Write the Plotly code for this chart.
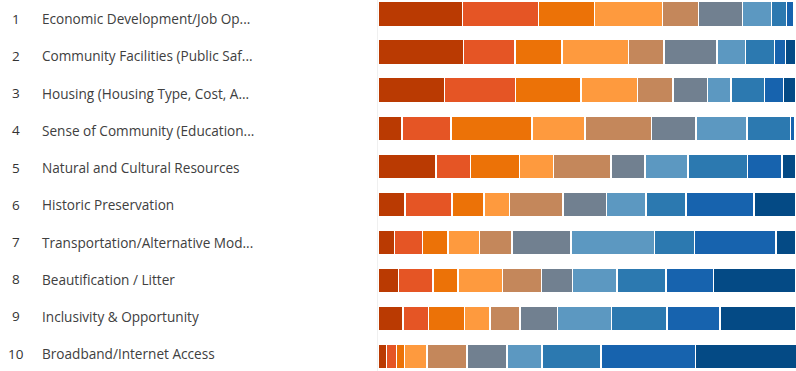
import plotly.graph_objects as go

topics = [
    "Economic Development/Job Op...",
    "Community Facilities (Public Saf...",
    "Housing (Housing Type, Cost, A...",
    "Sense of Community (Education...",
    "Natural and Cultural Resources",
    "Historic Preservation",
    "Transportation/Alternative Mod...",
    "Beautification / Litter",
    "Inclusivity & Opportunity",
    "Broadband/Internet Access",
]
row_numbers = [str(i) for i in range(1, 11)]

# share of responses (%) at each rank, one list per rank, topics in order
rank1 = [20.2, 20.5, 15.9, 5.8, 13.9, 6.4, 4.0, 4.9, 6.0, 2.0]
rank2 = [18.2, 12.3, 17.0, 11.7, 8.2, 11.3, 6.6, 8.2, 6.1, 2.4]
rank3 = [13.4, 11.2, 15.7, 19.3, 11.7, 7.6, 6.1, 6.0, 8.6, 1.9]
rank4 = [16.3, 15.9, 13.5, 12.7, 8.2, 6.2, 7.6, 10.7, 6.1, 5.4]
rank5 = [8.6, 8.5, 8.5, 15.9, 13.7, 12.7, 7.8, 9.3, 7.2, 9.6]
rank6 = [10.5, 12.7, 8.2, 10.7, 8.2, 10.5, 14.1, 7.4, 9.0, 9.6]
rank7 = [6.9, 6.8, 5.7, 12.2, 10.3, 9.4, 19.9, 10.7, 12.9, 8.3]
rank8 = [3.6, 7.0, 8.0, 10.4, 14.2, 9.6, 9.6, 11.7, 13.2, 14.2]
rank9 = [1.8, 2.6, 4.5, 1.0, 8.2, 16.3, 19.5, 11.4, 12.7, 22.5]
rank10 = [0.5, 2.5, 2.9, 0.3, 3.4, 10.0, 4.8, 19.6, 18.2, 24.2]

ranks = [rank1, rank2, rank3, rank4, rank5, rank6, rank7, rank8, rank9, rank10]
colors = ["#BA3A02", "#E55525", "#EC7207", "#FE9A3E", "#C4875B",
          "#718090", "#5C98C1", "#2C79B0", "#1763AE", "#044A85"]

W, H = 796, 371
LEFT = 378

fig = go.Figure()
for k, vals in enumerate(ranks):
    fig.add_trace(go.Bar(
        x=vals, y=topics, orientation="h",
        name="Rank %d" % (k + 1),
        marker=dict(color=colors[k], line=dict(color="white", width=1.5)),
        hoverinfo="x+name",
    ))

# category spacing ~38px; first bar centre ~14px from the top
step = 38.05
top_idx = -14.2 / step
bot_idx = (H - 14.2) / step

annotations = []
for i, (num, name) in enumerate(zip(row_numbers, topics)):
    ypx = 18.8 + 37.2 * i
    yp = 1 - ypx / H
    annotations.append(dict(
        x=(16 - LEFT) / (W - LEFT), y=yp, xref="paper", yref="paper",
        text=num, showarrow=False, xanchor="center", yanchor="middle",
        font=dict(family="Open Sans", size=13.5, color="#333333"),
    ))
    annotations.append(dict(
        x=(40 - LEFT) / (W - LEFT), y=yp, xref="paper", yref="paper",
        text=name, showarrow=False, xanchor="left", yanchor="middle",
        font=dict(family="Open Sans", size=13.6, color="#404040"),
    ))

fig.update_layout(
    width=W, height=H,
    margin=dict(l=LEFT, r=0, t=0, b=0),
    barmode="stack", bargap=0.34,
    showlegend=False,
    plot_bgcolor="white", paper_bgcolor="white",
    xaxis=dict(range=[0, 100], visible=False, fixedrange=True),
    yaxis=dict(
        categoryorder="array", categoryarray=topics,
        range=[bot_idx, top_idx], showticklabels=False,
        showgrid=False, zeroline=False,
        showline=True, linecolor="#f0f0f0", linewidth=1,
    ),
    annotations=annotations,
)

# drop the page's default body margin so the chart sits at the window's corner
fig.write_html("out.html", config={"displayModeBar": False},
               post_script="document.body.style.margin='0';")
